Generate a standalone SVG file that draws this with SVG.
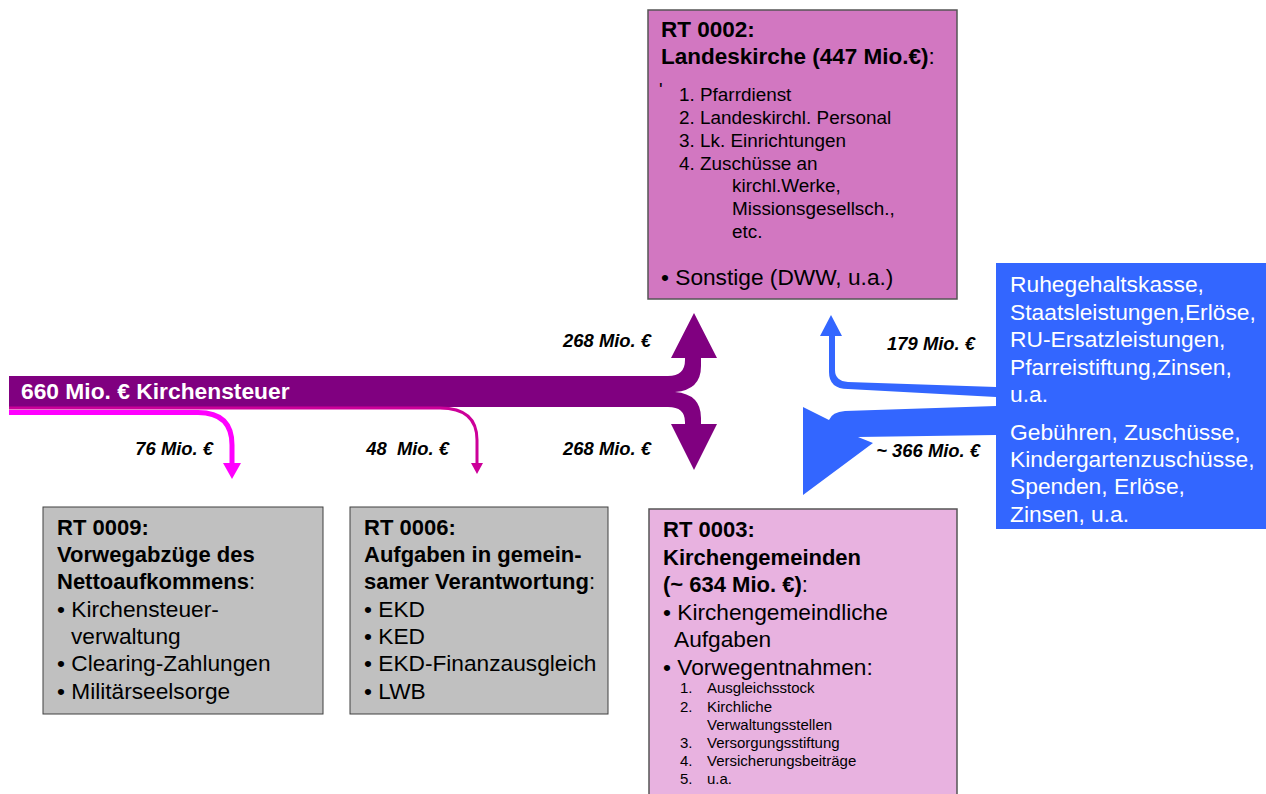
<svg xmlns="http://www.w3.org/2000/svg" width="1266" height="794" viewBox="0 0 1266 794">
<style>
text{font-family:"Liberation Sans",Arial,sans-serif;fill:#000}
.b{font-weight:bold}
.n{font-weight:normal}
.h{font-size:22px;font-weight:bold}
.t{font-size:22.7px}
.l{font-size:18.9px}
.s{font-size:15px}
.w{fill:#fff;font-size:22.8px}
.lab{font-size:18.4px;font-weight:bold;font-style:italic}
.gray{fill:#C0C0C0;stroke:#404040;stroke-width:1}
</style>
<rect width="1266" height="794" fill="#fff"/>
<g id="connectors">
<path d="M 9,376 H 668 Q 685,376 685,360 V 358 H 671 L 694,313 L 717,358 H 701 V 366 Q 701,390 675,392 Q 701,394 701,418 V 424 H 717 L 694,470 L 671,424 H 685 V 422 Q 685,407 668,407 H 9 Z" fill="#800080"/>
<path d="M 9,408 H 440 Q 477,408 477,440 V 463" fill="none" stroke="#CC0099" stroke-width="3"/>
<path d="M 471,463 H 483 L 477,474 Z" fill="#CC0099"/>
<path d="M 9,412.5 H 198 Q 232,412.5 232,445 V 463" fill="none" stroke="#FF00FF" stroke-width="5"/>
<path d="M 223,463 H 241 L 232,479 Z" fill="#FF00FF"/>
<path d="M 996,387 L 848,382 Q 835,381 835,370 V 336 H 842 L 831,315 L 820,336 H 829 V 372 Q 829,389 848,389 L 996,397 Z" fill="#3366FF"/>
<path d="M 996,406 L 845,411 Q 832,412 829,420 L 803,407 L 803,495 L 873,443 L 858,437 L 996,435 Z" fill="#3366FF"/>
<text x="21" y="399" class="w b">660 Mio. € Kirchensteuer</text>
<text x="651" y="347" class="lab" text-anchor="end">268 Mio. €</text>
<text x="651" y="455" class="lab" text-anchor="end">268 Mio. €</text>
<text x="213" y="455" class="lab" text-anchor="end">76 Mio. €</text>
<text x="449" y="455" class="lab" text-anchor="end" xml:space="preserve">48  Mio. €</text>
<text x="975" y="350" class="lab" text-anchor="end">179 Mio. €</text>
<text x="980" y="457" class="lab" text-anchor="end">~ 366 Mio. €</text>
</g>
<g id="rt0002">
<rect x="648" y="10" width="309" height="289" fill="#D277C1" stroke="#555" stroke-width="1.5"/>
<text x="661" y="37" class="h" style="font-size:22.5px">RT 0002:</text>
<text x="661" y="64" class="h" style="font-size:22.5px">Landeskirche (447 Mio.€)<tspan class="n">:</tspan></text>
<text x="659" y="96" style="font-size:19px">'</text>
<text class="l"><tspan x="679" y="101">1. Pfarrdienst</tspan><tspan x="679" y="124">2. Landeskirchl. Personal</tspan><tspan x="679" y="147">3. Lk. Einrichtungen</tspan><tspan x="679" y="170">4. Zuschüsse an</tspan><tspan x="732" y="192">kirchl.Werke,</tspan><tspan x="732" y="215">Missionsgesellsch.,</tspan><tspan x="732" y="238">etc.</tspan></text>
<text x="661" y="285" class="t">• Sonstige (DWW, u.a.)</text>
</g>
<g id="sources">
<rect x="996" y="263" width="270" height="266" fill="#3366FF"/>
<text class="w"><tspan x="1010" y="292">Ruhegehaltskasse,</tspan><tspan x="1010" y="320">Staatsleistungen,Erlöse,</tspan><tspan x="1010" y="347">RU-Ersatzleistungen,</tspan><tspan x="1010" y="375">Pfarreistiftung,Zinsen,</tspan><tspan x="1010" y="402">u.a.</tspan><tspan x="1010" y="440">Gebühren, Zuschüsse,</tspan><tspan x="1010" y="467">Kindergartenzuschüsse,</tspan><tspan x="1010" y="494">Spenden, Erlöse,</tspan><tspan x="1010" y="522">Zinsen, u.a.</tspan></text>
</g>
<g id="rt0009">
<rect x="43" y="507" width="280" height="207" class="gray"/>
<text x="57" y="535" class="h">RT 0009:</text>
<text x="57" y="562" class="h">Vorwegabzüge des</text>
<text x="57" y="589" class="h">Nettoaufkommens<tspan class="n">:</tspan></text>
<text class="t"><tspan x="57" y="617">• Kirchensteuer-</tspan><tspan x="71" y="644">verwaltung</tspan><tspan x="57" y="671">• Clearing-Zahlungen</tspan><tspan x="57" y="699">• Militärseelsorge</tspan></text>
</g>
<g id="rt0006">
<rect x="350" y="507" width="258" height="207" class="gray"/>
<text x="364" y="535" class="h">RT 0006:</text>
<text x="364" y="562" class="h">Aufgaben in gemein-</text>
<text x="364" y="589" class="h">samer Verantwortung<tspan class="n">:</tspan></text>
<text class="t"><tspan x="364" y="617">• EKD</tspan><tspan x="364" y="644">• KED</tspan><tspan x="364" y="671">• EKD-Finanzausgleich</tspan><tspan x="364" y="699">• LWB</tspan></text>
</g>
<g id="rt0003">
<rect x="649" y="509" width="308" height="300" fill="#E8B2E0" stroke="#555" stroke-width="1.5"/>
<text x="663" y="537" class="h">RT 0003:</text>
<text x="663" y="565" class="h">Kirchengemeinden</text>
<text x="663" y="592" class="h">(~ 634 Mio. €)<tspan class="n">:</tspan></text>
<text class="t"><tspan x="663" y="620">• Kirchengemeindliche</tspan><tspan x="674" y="647">Aufgaben</tspan><tspan x="663" y="675">• Vorwegentnahmen:</tspan></text>
<text class="s"><tspan x="680" y="693">1.</tspan><tspan x="680" y="712">2.</tspan><tspan x="680" y="748">3.</tspan><tspan x="680" y="766">4.</tspan><tspan x="680" y="784">5.</tspan></text>
<text class="s"><tspan x="707" y="693">Ausgleichsstock</tspan><tspan x="707" y="712">Kirchliche</tspan><tspan x="707" y="730">Verwaltungsstellen</tspan><tspan x="707" y="748">Versorgungsstiftung</tspan><tspan x="707" y="766">Versicherungsbeiträge</tspan><tspan x="707" y="784">u.a.</tspan></text>
</g>
</svg>
